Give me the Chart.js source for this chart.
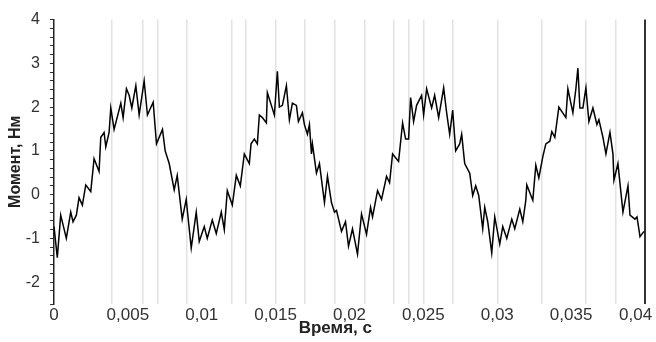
<!DOCTYPE html>
<html>
<head>
<meta charset="utf-8">
<script src="https://cdn.jsdelivr.net/npm/chart.js@4/dist/chart.umd.min.js"></script>
<style>
html,body{margin:0;padding:0;background:#fff;}
#wrap{width:656px;height:342px;}
</style>
</head>
<body>
<div id="wrap"><canvas id="c" width="656" height="342"></canvas></div>
<script>
// Time, s
const times = [
0, 0.000224, 0.000454, 0.000834, 0.001132, 0.001288, 0.001512, 0.001695, 0.001919, 0.002149,
0.002488, 0.002712, 0.003051, 0.003166, 0.003390, 0.003505, 0.003729, 0.003844, 0.004068, 0.004522,
0.004678, 0.004902, 0.005085, 0.005268, 0.005539, 0.005763, 0.006102, 0.006325, 0.006712, 0.006936,
0.007342, 0.007525, 0.007797, 0.008136, 0.008339, 0.008678, 0.008949, 0.009288, 0.009627, 0.009831,
0.010169, 0.010373, 0.010712, 0.010983, 0.011322, 0.011525, 0.011729, 0.012068, 0.012339, 0.012610,
0.012881, 0.013220, 0.013336, 0.013559, 0.013763, 0.013898, 0.014102, 0.014373, 0.014441, 0.014712,
0.014915, 0.015119, 0.015254, 0.015458, 0.015729, 0.015932, 0.016136, 0.016407, 0.016542, 0.016814,
0.016949, 0.017153, 0.017288, 0.017424, 0.017492, 0.017763, 0.017966, 0.018305, 0.018508, 0.018780,
0.018983, 0.019119, 0.019458, 0.019729, 0.019932, 0.020203, 0.020542, 0.020814, 0.021153, 0.021424,
0.021559, 0.021898, 0.022169, 0.022508, 0.022712, 0.022915, 0.023322, 0.023593, 0.023797, 0.024000,
0.024136, 0.024339, 0.024542, 0.024881, 0.025017, 0.025220, 0.025559, 0.025763, 0.026034, 0.026373,
0.026576, 0.026780, 0.026983, 0.027186, 0.027458, 0.027593, 0.027729, 0.027797, 0.028136, 0.028339,
0.028542, 0.028746, 0.029017, 0.029153, 0.029356, 0.029627, 0.029831, 0.030169, 0.030373, 0.030644,
0.030983, 0.031186, 0.031525, 0.031729, 0.031932, 0.032000, 0.032407, 0.032610, 0.032814, 0.033085,
0.033288, 0.033559, 0.033695, 0.033898, 0.034169, 0.034644, 0.034780, 0.035119, 0.035322, 0.035458,
0.035593, 0.035797, 0.036000, 0.036203, 0.036475, 0.036746, 0.036881, 0.037153, 0.037356, 0.037627,
0.037831, 0.037898, 0.038169, 0.038508, 0.038847, 0.038983, 0.039322, 0.039458, 0.039661, 0.039932
];
// Torque, N·m
const torque = [
-0.73, -1.44, -0.47, -1.0, -0.4, -0.62, -0.47, -0.07, -0.24, 0.22,
0.07, 0.82, 0.53, 1.31, 1.42, 1.09, 1.42, 1.98, 1.49, 2.09,
1.76, 2.42, 2.27, 1.98, 2.49, 1.82, 2.6, 1.82, 2.11, 1.16,
1.49, 1.0, 0.71, 0.11, 0.44, -0.56, -0.11, -1.22, -0.4, -1.07,
-0.73, -1.0, -0.58, -0.89, -0.4, -0.8, 0.09, -0.24, 0.44, 0.2,
0.93, 0.71, 1.16, 1.27, 1.16, 1.82, 1.76, 1.64, 2.33, 2.04,
1.82, 2.82, 2.0, 2.04, 2.49, 1.71, 2.09, 2.04, 1.67, 1.87,
1.6, 1.38, 1.6, 0.93, 1.16, 0.49, 0.71, -0.18, 0.42, -0.18,
-0.4, -0.36, -0.84, -0.62, -1.18, -0.78, -1.36, -0.44, -0.91, -0.29,
-0.51, 0.09, -0.11, 0.42, 0.27, 0.93, 0.76, 1.64, 1.27, 1.27,
2.22, 1.67, 2.04, 2.27, 1.82, 2.42, 1.98, 2.27, 1.76, 2.44,
1.87, 1.38, 1.93, 1.0, 1.16, 1.38, 0.93, 0.71, 0.49, -0.02,
0.2, -0.02, -0.78, -0.29, -0.62, -1.33, -0.51, -1.13, -0.73, -1.0,
-0.56, -0.78, -0.33, -0.62, -0.13, 0.22, -0.13, 0.67, 0.38, 0.87,
1.16, 1.22, 1.44, 1.31, 2.0, 1.76, 2.42, 1.87, 2.42, 2.89,
1.98, 1.98, 2.44, 1.67, 1.98, 1.6, 1.71, 1.31, 0.93, 1.42,
0.93, 0.33, 0.71, -0.4, 0.2, -0.47, -0.56, -0.51, -0.96, -0.84
];
// irregular vertical grid lines (s) and the right-hand marker line
const gridTimes = [0.0039, 0.006, 0.007, 0.009, 0.012, 0.013, 0.015, 0.017, 0.019, 0.021, 0.023, 0.024, 0.025, 0.027, 0.030, 0.033, 0.036, 0.038];
const markerTime = 0.04;
const xTickStep = 0.005;
const yTickStep = 0.2;
const xMin = 0, xMax = 0.04, yMin = -2.5, yMax = 4;
const xTitle = 'Время, с';
const yTitle = 'Момент, Нм';

const FONT = "'Liberation Sans', Arial, sans-serif";
const NBSP = '\u00a0';
const points = times.map((t, i) => ({x: t, y: torque[i]}));

function fmtX(v) {
  const r = Math.round(v * 1000) / 1000;
  let s = String(r).replace('.', ',');
  if (Math.abs(r - xMax) < 1e-9) s = s + NBSP.repeat(4);
  return s;
}

new Chart(document.getElementById('c'), {
  type: 'line',
  data: {
    datasets: [{
      data: points,
      borderColor: '#000',
      borderWidth: 1.5,
      pointRadius: 0,
      tension: 0,
      fill: false
    }]
  },
  options: {
    responsive: false,
    animation: false,
    devicePixelRatio: 1,
    layout: {padding: {top: 12, right: 11, left: 0, bottom: 0}},
    plugins: {legend: {display: false}, tooltip: {enabled: false}},
    scales: {
      x: {
        type: 'linear', min: xMin, max: xMax, position: 'bottom',
        ticks: {
          stepSize: xTickStep, autoSkip: false, maxRotation: 0, minRotation: 0,
          callback: fmtX, padding: 1, color: '#333',
          font: {family: FONT, size: 17}
        },
        grid: {display: false, drawTicks: false},
        border: {display: false},
        title: {display: true, text: xTitle + NBSP.repeat(6), color: '#222',
          font: {family: FONT, size: 17, weight: 'bold'}, padding: {top: 0, bottom: 3}},
        afterFit: s => { s.height = 38; s.paddingLeft = 0; s.paddingRight = 0; }
      },
      xg: {
        type: 'linear', min: xMin, max: xMax, position: 'bottom',
        afterBuildTicks: s => { s.ticks = gridTimes.concat([markerTime]).map(v => ({value: v})); },
        ticks: {display: false},
        border: {display: false},
        grid: {
          drawTicks: false,
          color: ctx => (ctx.tick && Math.abs(ctx.tick.value - markerTime) < 1e-9) ? '#333' : '#e2e2e2',
          lineWidth: ctx => (ctx.tick && Math.abs(ctx.tick.value - markerTime) < 1e-9) ? 2 : 1.5
        },
        afterFit: s => { s.height = 0; s.paddingLeft = 0; s.paddingRight = 0; }
      },
      y: {
        type: 'linear', min: yMin, max: yMax,
        ticks: {
          stepSize: yTickStep, autoSkip: false, padding: 10, color: '#333',
          font: {family: FONT, size: 16},
          callback: v => Math.abs(v - Math.round(v)) < 1e-6 ? String(Math.round(v)) : ''
        },
        grid: {drawOnChartArea: false, drawTicks: true, tickLength: 4, tickColor: '#333', tickWidth: 1},
        border: {display: true, color: '#222', width: 1.5},
        title: {display: true, text: yTitle, color: '#222',
          font: {family: FONT, size: 16, weight: 'bold'}, padding: {top: 6, bottom: 0}},
        afterFit: s => { s.width = 54; }
      }
    }
  }
});
</script>
</body>
</html>
